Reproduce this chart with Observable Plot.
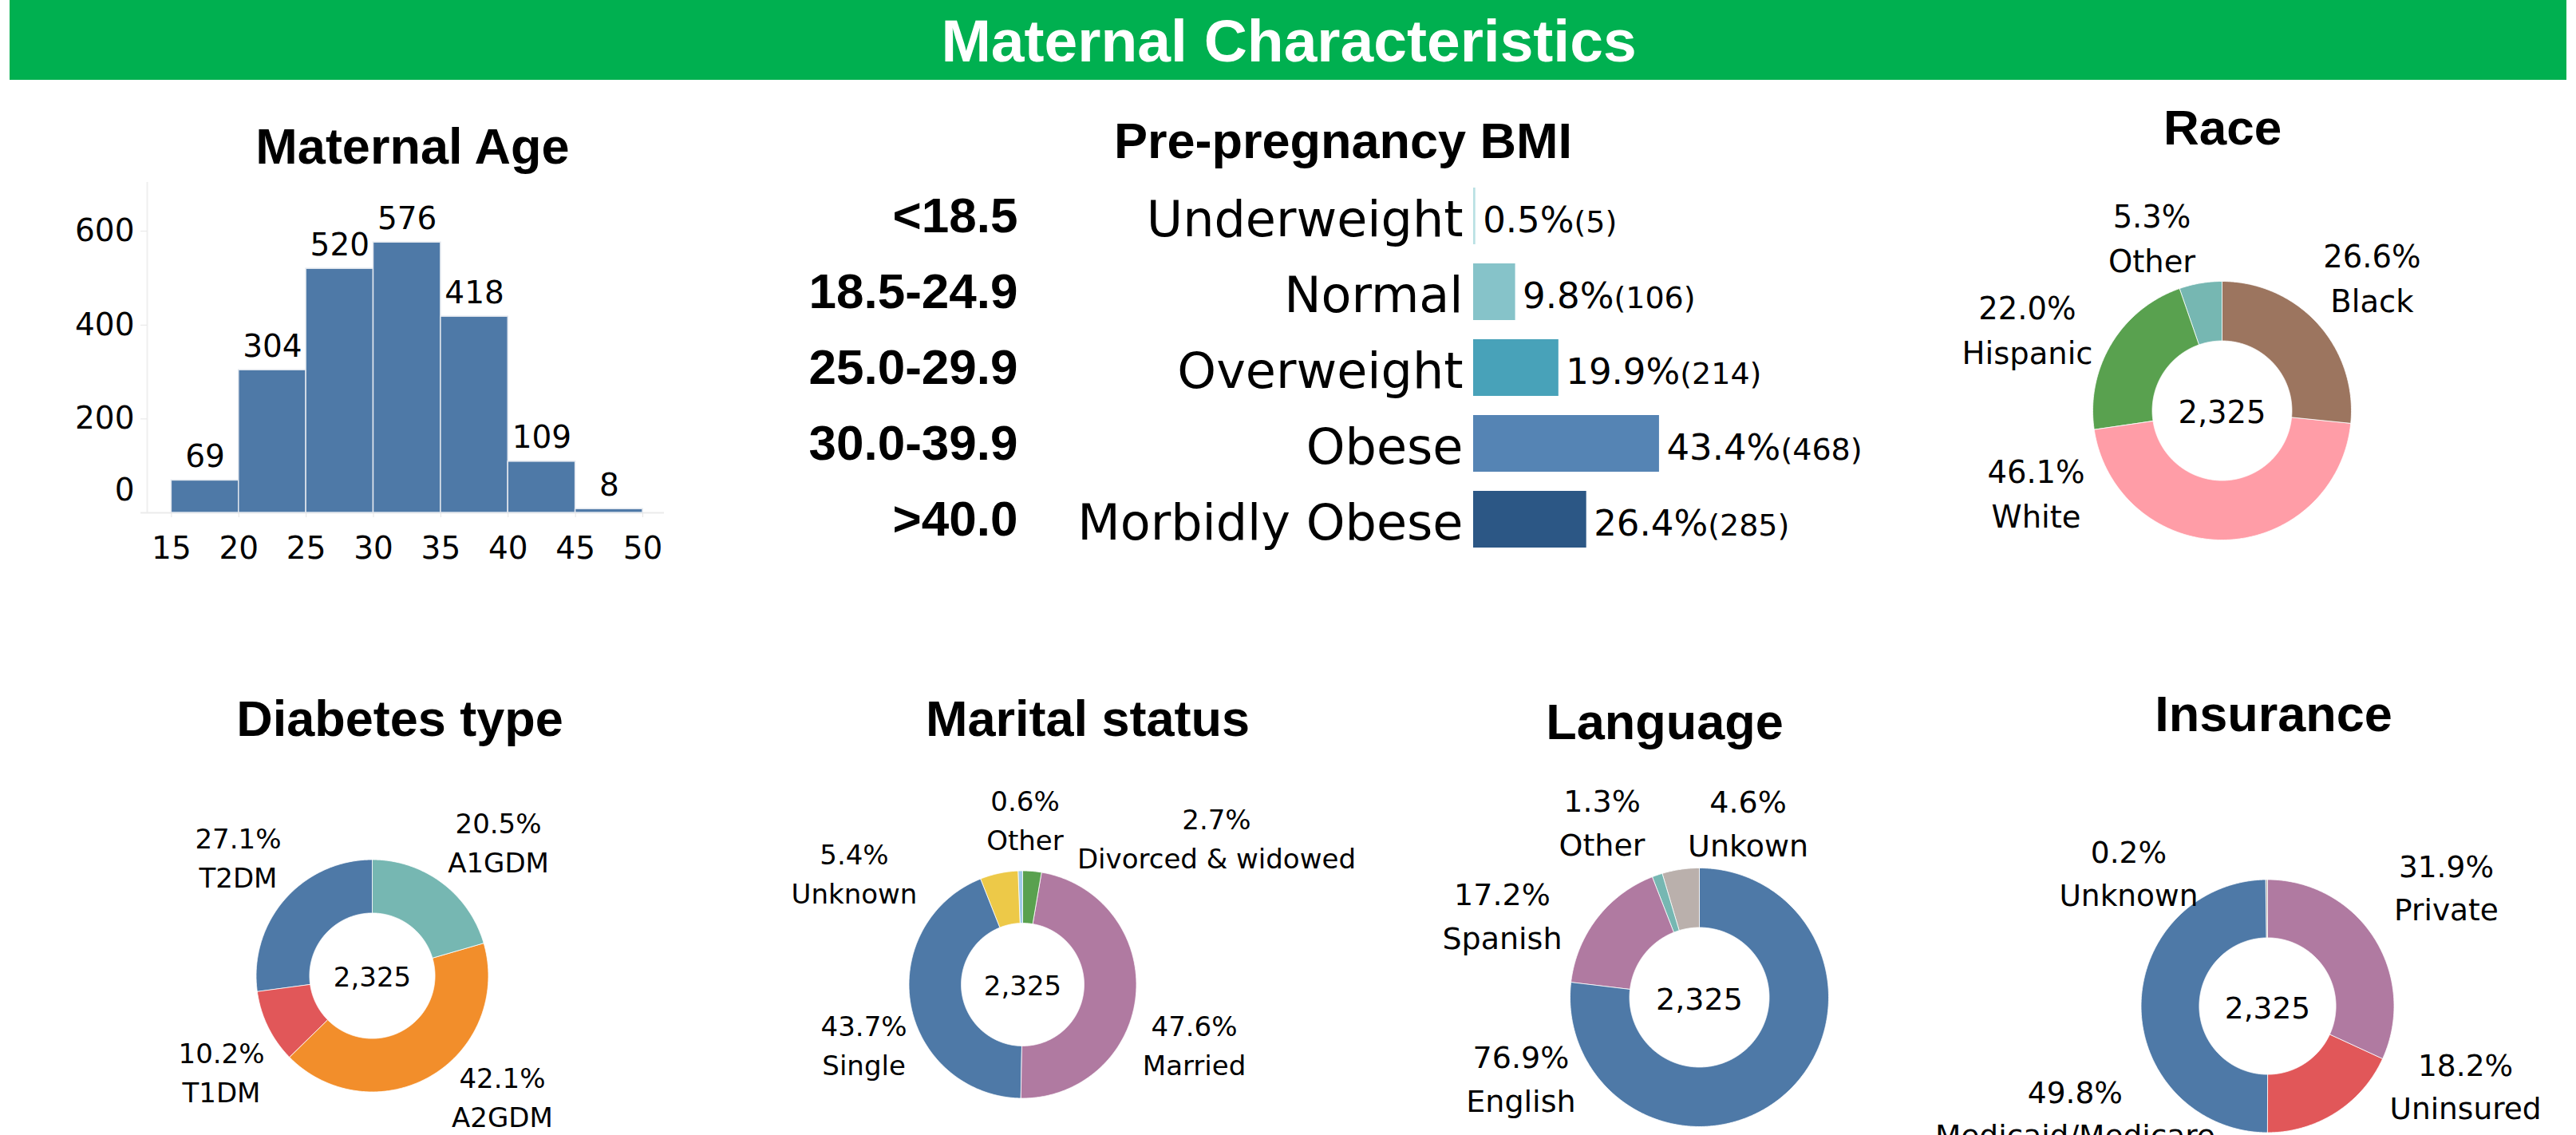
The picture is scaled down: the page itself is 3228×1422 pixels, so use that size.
<!DOCTYPE html>
<html><head><meta charset="utf-8">
<script src="https://cdn.jsdelivr.net/npm/d3@7"></script>
<script src="https://cdn.jsdelivr.net/npm/@observablehq/plot@0.6"></script>
<style>
html,body{margin:0;padding:0;background:#fff;}
body{width:3228px;height:1422px;overflow:hidden;position:relative;}
#page{position:relative;width:3228px;height:1422px;overflow:hidden;}
.title{position:absolute;font-family:"Liberation Sans",Arial,sans-serif;font-weight:bold;color:#000;white-space:nowrap;line-height:1;transform:translateX(-50%);}
#header{position:absolute;left:12px;top:0;width:3204px;height:100px;background:#00B050;}
</style></head><body><div id="page"><div id="header"></div></div>
<script>
// ---------------- DATA ----------------
const ageBinStart = [15, 20, 25, 30, 35, 40, 45];
const ageBinEnd   = [20, 25, 30, 35, 40, 45, 50];
const ageCounts   = [69, 304, 520, 576, 418, 109, 8];
const ageTicksX   = [15, 20, 25, 30, 35, 40, 45, 50];
const ageTicksY   = [200, 400, 600];
const ageTickZero = [0];

const bmiCategories = ["Underweight", "Normal", "Overweight", "Obese", "Morbidly Obese"];
const bmiRanges     = ["<18.5", "18.5-24.9", "25.0-29.9", "30.0-39.9", ">40.0"];
const bmiPercent    = [0.5, 9.8, 19.9, 43.4, 26.4];
const bmiCounts     = [5, 106, 214, 468, 285];

const totalMothers = 2325;

const raceCategories = ["Black", "White", "Hispanic", "Other"];
const racePercent    = [26.6, 46.1, 22.0, 5.3];

const diabetesCategories = ["A1GDM", "A2GDM", "T1DM", "T2DM"];
const diabetesPercent    = [20.5, 42.1, 10.2, 27.1];

const maritalCategories = ["Divorced & widowed", "Married", "Single", "Unknown", "Other"];
const maritalPercent    = [2.7, 47.6, 43.7, 5.4, 0.6];

const languageCategories = ["English", "Spanish", "Other", "Unkown"];
const languagePercent    = [76.9, 17.2, 1.3, 4.6];

const insuranceCategories = ["Private", "Uninsured", "Medicaid/Medicare", "Unknown"];
const insurancePercent    = [31.9, 18.2, 49.8, 0.2];

// ---------------- STYLES / LAYOUT ----------------
const bmiColors       = ["#b9e0e3", "#86c3c9", "#48a2b9", "#5584b4", "#2c5785"];
const raceColors      = ["#9C755F", "#FF9DA7", "#59A14F", "#76B7B2"];
const diabetesColors  = ["#76B7B2", "#F28E2B", "#E15759", "#4E79A7"];
const maritalColors   = ["#59A14F", "#B07AA1", "#4E79A7", "#EDC948", "#A0CBE8"];
const languageColors  = ["#4E79A7", "#B07AA1", "#76B7B2", "#BAB0AC"];
const insuranceColors = ["#B07AA1", "#E15759", "#4E79A7", "#BAB0AC"];

// label block offsets, in units of the outer radius (x right, y down)
const raceLabelOffset      = [[1.160,-1.043],[-1.438,0.623],[-1.506,-0.642],[-0.543,-1.352]];
const diabetesLabelOffset  = [[1.086,-1.168],[1.120,1.024],[-1.299,0.811],[-1.155,-1.038]];
const maritalLabelOffset   = [[1.705,-1.305],[1.509,0.512],[-1.396,0.512],[-1.481,-0.996],[0.021,-1.467]];
const languageLabelOffset  = [[-1.380,0.605],[-1.525,-0.651],[-0.753,-1.377],[0.377,-1.370]];
const insuranceLabelOffset = [[1.413,-0.959],[1.565,0.612],[-1.521,0.826],[-1.098,-1.073]];

const LABEL_FONT = "'DejaVu Sans', Verdana, sans-serif";
const page = document.getElementById("page");

function place(el, left, top) {
  const d = document.createElement("div");
  d.style.position = "absolute";
  d.style.left = left + "px";
  d.style.top = top + "px";
  d.appendChild(el);
  page.appendChild(d);
}
function title(text, cx, baseline, fs, color) {
  const d = document.createElement("div");
  d.className = "title";
  d.textContent = text;
  d.style.left = cx + "px";
  d.style.top = (baseline - 0.8465 * fs) + "px";
  d.style.fontSize = fs + "px";
  d.style.color = color || "#000";
  page.appendChild(d);
}
const baseStyle = {background: "none", overflow: "visible", maxWidth: "none", fontFamily: LABEL_FONT, color: "#000"};

// ---------------- HEADER ----------------
title("Maternal Characteristics", 1615, 77, 75, "#fff");

// ---------------- MATERNAL AGE HISTOGRAM ----------------
title("Maternal Age", 517, 205, 63);
const ageData = ageCounts.map((c, i) => ({x1: ageBinStart[i], x2: ageBinEnd[i], count: c}));
const ageChart = Plot.plot({
  width: 810, height: 520,
  marginLeft: 144, marginRight: 18, marginTop: 28, marginBottom: 78,
  x: {domain: [13.2, 51.6], label: null},
  y: {domain: [0, 704], label: null},
  style: baseStyle,
  marks: [
    Plot.ruleX([13.2], {stroke: "#efefef", strokeWidth: 2}),
    Plot.ruleY([0], {x1: 12.73, x2: 51.6, stroke: "#ebebeb", strokeWidth: 2}),
    Plot.rectY(ageData, {x1: "x1", x2: "x2", y: "count", fill: "#4E79A7", stroke: "#e2e7ee", strokeWidth: 1.5}),
    Plot.text(ageData, {x: d => (d.x1 + d.x2) / 2, y: "count", text: d => String(d.count), dy: -17, lineAnchor: "bottom", fontSize: 39, fill: "#000"}),
    Plot.axisX({ticks: ageTicksX, tickSize: 6, tickPadding: 24, stroke: "#e6e6e6", fill: "#000", fontSize: 39, label: null, tickFormat: d => String(d)}),
    Plot.axisY({ticks: ageTicksY, tickSize: 8, tickPadding: 8, stroke: "#e6e6e6", fill: "#000", fontSize: 39, label: null, tickFormat: d => String(d)}),
    Plot.axisY({ticks: ageTickZero, tickSize: 0, tickPadding: 16, fill: "#000", fontSize: 39, label: null, dy: -28, tickFormat: d => String(d)})
  ]
});
place(ageChart, 40, 200);

// ---------------- PRE-PREGNANCY BMI ----------------
title("Pre-pregnancy BMI", 1683, 198, 63);
const bmiData = bmiCategories.map((c, i) => ({cat: c, pct: bmiPercent[i], n: bmiCounts[i], color: bmiColors[i]}));
const bmiChart = Plot.plot({
  width: 1480, height: 522,
  marginLeft: 946, marginRight: 212, marginTop: 10, marginBottom: 10,
  x: {domain: [0, 60], axis: null},
  y: {domain: bmiCategories, padding: 0.25, label: null},
  style: baseStyle,
  marks: [
    Plot.barX(bmiData, {y: "cat", x: "pct", fill: "color"}),
    Plot.text(bmiData, {y: "cat", x: "pct", text: d => d.pct.toFixed(1) + "%(" + d.n + ")", dx: 9, dy: 6, textAnchor: "start", fontSize: 45, fill: "#000"}),
    Plot.axisY({tickSize: 0, tickPadding: 13, fontSize: 62, dy: 5, label: null}),
    Plot.axisY({tickSize: 0, tickPadding: 571, fontSize: 62, fontWeight: "bold", fontFamily: "'Liberation Sans', Arial, sans-serif", label: null,
      tickFormat: d => bmiRanges[bmiCategories.indexOf(d)]})
  ]
});
// smaller count in parentheses
bmiChart.querySelectorAll("text").forEach(t => {
  const m = /^(\d+\.\d%)(\(\d+\))$/.exec(t.textContent);
  if (m) {
    t.textContent = "";
    const a = document.createElementNS("http://www.w3.org/2000/svg", "tspan");
    a.textContent = m[1];
    const b = document.createElementNS("http://www.w3.org/2000/svg", "tspan");
    b.textContent = m[2];
    b.setAttribute("font-size", "38");
    t.appendChild(a); t.appendChild(b);
  }
});
place(bmiChart, 900, 200);

// ---------------- DONUTS ----------------
function donut(cfg) {
  const {cats, vals, colors, offsets, cx, cy, R, inner, fs} = cfg;
  const arcs = d3.pie().sort(null).value(d => d)(vals);
  const rows = [];
  arcs.forEach((p, i) => {
    const n = Math.max(2, Math.ceil((p.endAngle - p.startAngle) / (Math.PI / 360)));
    for (let k = 0; k <= n; k++) {
      const a = p.startAngle + (p.endAngle - p.startAngle) * k / n;
      rows.push({key: cats[i], color: colors[i], x: Math.sin(a), y: -Math.cos(a)});
    }
    for (let k = n; k >= 0; k--) {
      const a = p.startAngle + (p.endAngle - p.startAngle) * k / n;
      rows.push({key: cats[i], color: colors[i], x: inner * Math.sin(a), y: -inner * Math.cos(a)});
    }
  });
  const labels = cats.map((c, i) => ({x: offsets[i][0], y: offsets[i][1], text: vals[i].toFixed(1) + "%\n" + c}));
  const W = 1000, H = 760;
  const chart = Plot.plot({
    width: W, height: H, margin: 0,
    x: {domain: [-W / 2 / R, W / 2 / R], axis: null},
    y: {domain: [-H / 2 / R, H / 2 / R], axis: null, reverse: true},
    style: baseStyle,
    marks: [
      Plot.line(rows, {x: "x", y: "y", z: "key", fill: "color", stroke: "#ffffff", strokeWidth: 0.8, curve: "linear-closed"}),
      Plot.text(labels, {x: "x", y: "y", text: "text", fontSize: fs, lineHeight: 1.45, lineAnchor: "middle", fill: "#000"}),
      Plot.text([d3.format(",")(totalMothers)], {frameAnchor: "middle", text: d => d, fontSize: fs, dy: 3, fill: "#000"})
    ]
  });
  place(chart, cx - W / 2, cy - H / 2);
}

title("Race", 2785, 181, 62);
donut({cats: raceCategories, vals: racePercent, colors: raceColors, offsets: raceLabelOffset, cx: 2784, cy: 514, R: 162, inner: 0.54, fs: 38.5});

title("Diabetes type", 501, 922, 63);
donut({cats: diabetesCategories, vals: diabetesPercent, colors: diabetesColors, offsets: diabetesLabelOffset, cx: 466, cy: 1222, R: 145.5, inner: 0.54, fs: 34});

title("Marital status", 1363, 922, 63);
donut({cats: maritalCategories, vals: maritalPercent, colors: maritalColors, offsets: maritalLabelOffset, cx: 1281, cy: 1233, R: 142.5, inner: 0.54, fs: 34});

title("Language", 2086, 926, 63);
donut({cats: languageCategories, vals: languagePercent, colors: languageColors, offsets: languageLabelOffset, cx: 2129, cy: 1249, R: 162, inner: 0.54, fs: 38});

title("Insurance", 2849, 916, 63);
donut({cats: insuranceCategories, vals: insurancePercent, colors: insuranceColors, offsets: insuranceLabelOffset, cx: 2841, cy: 1260, R: 158.5, inner: 0.54, fs: 37.5});
</script></body></html>
